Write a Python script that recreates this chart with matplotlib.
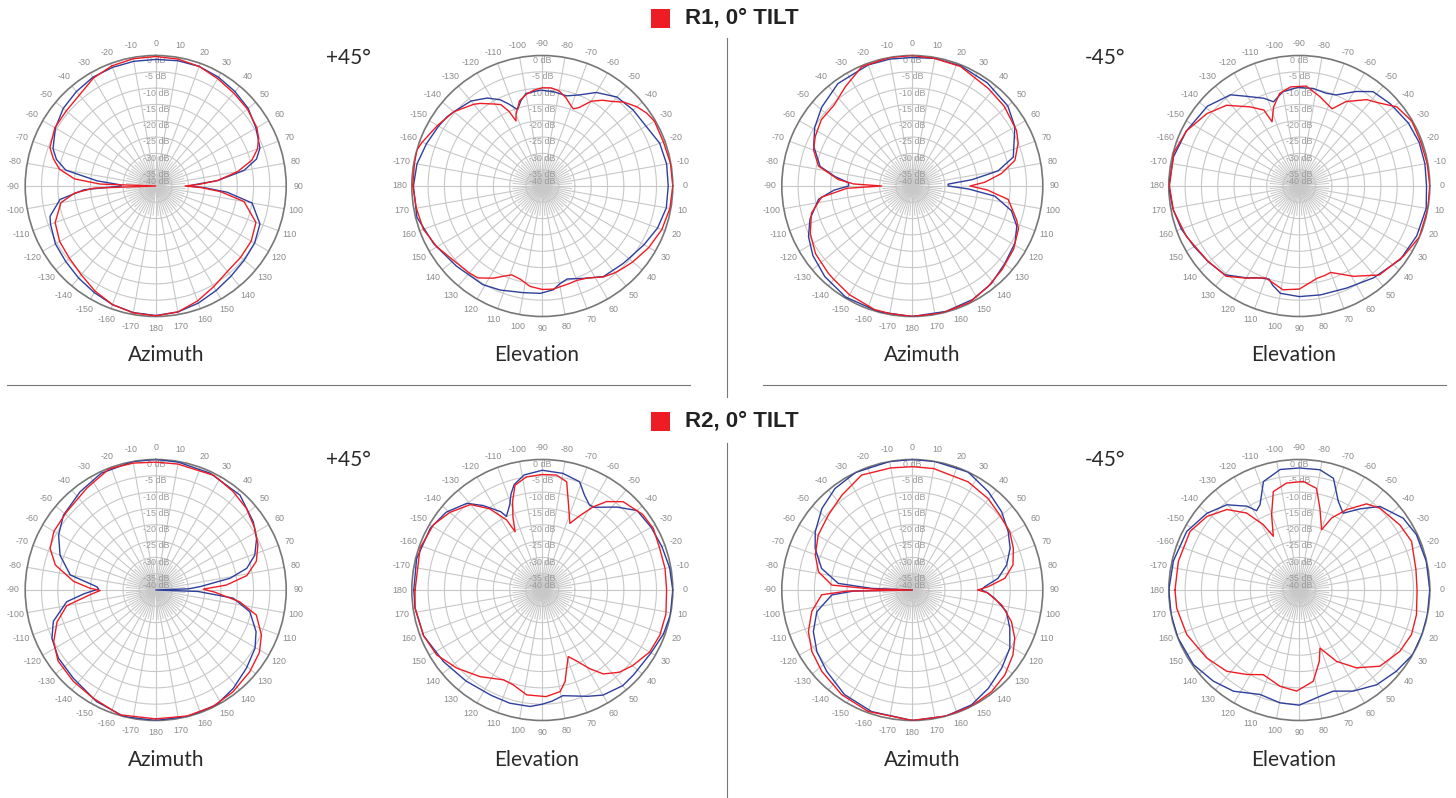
import numpy as np
import matplotlib
matplotlib.use("Agg")
import matplotlib.pyplot as plt
from matplotlib.lines import Line2D
from matplotlib.patches import Rectangle

W, H = 1456, 798
R = 130.5  # polar radius in pixels

RED = "#ee1c24"
BLUE = "#2e3f9c"
GRID = "#c8c8c8"
LABEL = "#8a8a8a"

# ---- pattern data, (angle in degrees, level in dB) ----
# R1, +45 azimuth
az1_red = [(-180,-0.2),(-170,-0.5),(-160,-1.3),(-150,-2.8),(-140,-4.5),(-130,-5.5),(-120,-6),(-110,-7.2),
           (-100,-10.5),(-95,-15),(-92,-21),(-90,-40),(-88,-23),(-85,-15),(-80,-10),(-75,-7.5),(-70,-5.5),
           (-60,-4.3),(-50,-4.2),(-40,-3.6),(-30,-1.8),(-20,-0.8),(-10,-0.4),(0,-0.3),(10,-0.5),(20,-1),
           (30,-2),(40,-2.8),(50,-3.3),(60,-4.2),(65,-5.2),(70,-6.8),(75,-9.5),(80,-14.5),(85,-21),(88,-27),
           (90,-31),(92,-26),(95,-20),(100,-12.5),(110,-7.3),(120,-6.2),(130,-6),(140,-5.8),(150,-4.4),
           (160,-2.5),(170,-0.8),(180,-0.2)]
az1_blue = [(-180,-0.3),(-170,-0.6),(-160,-1.3),(-150,-2.3),(-140,-3.2),(-130,-4),(-120,-4.5),(-110,-5.7),
            (-106,-6.3),(-98,-10.4),(-93,-18),(-90,-29.5),(-88,-29),(-85,-22),(-80,-12),(-75,-8.5),(-70,-6.5),
            (-60,-4.5),(-50,-3),(-40,-2.2),(-30,-1.5),(-20,-1.3),(-10,-1.2),(0,-1.2),(10,-1),(20,-1),(30,-1.5),
            (40,-2.2),(50,-3),(60,-4.5),(70,-6),(75,-8),(80,-12.5),(85,-21),(88,-28),(90,-30),(92,-25),
            (95,-18),(100,-10),(110,-6),(120,-5),(130,-4.6),(140,-4),(150,-3),(160,-1.8),(170,-0.8),(180,-0.3)]

# R1, +45 elevation
el1_red = [(-180,-0.3),(-170,-0.2),(-164,0),(-160,-0.8),(-150,-2.9),(-140,-4.6),(-130,-7.3),(-127,-8.3),
           (-120,-11),(-117,-12),(-114,-15),(-112,-18.5),(-110,-16.5),(-107,-14.6),(-105,-13),(-100,-11.5),
           (-95,-10.5),(-90,-9.9),(-85,-9.8),(-80,-10.4),(-75,-12),(-70,-14),(-68,-14.5),(-65,-13.5),(-60,-10),
           (-55,-7.9),(-50,-6.2),(-46,-4.2),(-40,-2.2),(-35,-1),(-30,-0.3),(-20,-0.5),(-10,-0.1),(0,0),
           (10,-0.3),(20,-1),(30,-2.3),(40,-3.8),(45,-4.6),(50,-5.3),(56,-6.4),(64,-8.6),(70,-9.2),(74,-9),
           (84,-8.2),(90,-8.3),(97,-9),(103,-10.6),(109,-11.2),(113,-10),(118,-8),(125,-5.6),(130,-5.2),
           (140,-4.5),(150,-2.7),(160,-1.2),(170,-0.8),(180,-0.3)]
el1_blue = [(-180,-0.5),(-170,-1),(-160,-2.2),(-150,-3.3),(-144,-3.9),(-140,-4.6),(-130,-6),(-122,-8.2),
            (-116,-10.6),(-112,-13),(-108,-15.4),(-104,-13),(-100,-11.2),(-91,-10.6),(-83,-10.9),(-75,-11.4),
            (-68,-9.9),(-60,-6.9),(-50,-4.4),(-40,-3.7),(-30,-3.3),(-20,-1.7),(-10,-1.3),(0,-1.4),(10,-1.4),
            (20,-2.4),(30,-4),(40,-5.4),(44,-5.7),(56,-6.5),(66,-9),(75,-10.5),(80,-9.5),(84,-8),(91,-7.1),
            (100,-6.8),(112,-5.6),(121,-4.7),(137,-4),(152,-2.3),(166,-0.4),(180,-0.5)]

# R1, -45 azimuth
az2_red = [(-180,0),(-170,-0.3),(-163,-0.4),(-150,-1.5),(-140,-2.6),(-136,-2.9),(-125,-3.8),(-115,-5.5),
           (-105,-8),(-97,-12),(-92,-20),(-90,-30.6),(-88,-22),(-85,-17.2),(-78,-10.6),(-70,-7.8),(-63,-6.6),
           (-54,-5.5),(-44,-5.5),(-34,-3.3),(-23,-0.3),(-10,0),(0,0),(10,-0.3),(22,-0.5),(38,-2.1),(49,-2.7),
           (62,-3.8),(68,-5),(76,-7.6),(82,-12.4),(87,-17.7),(90,-22.3),(93,-17),(98,-10.3),(108,-6.4),
           (112,-4.9),(122,-3.4),(133,-2.4),(143,-1.4),(154,-0.2),(167,0),(180,0)]
az2_blue = [(-180,0),(-165,-0.1),(-149,-0.3),(-136,-1.4),(-125,-2.8),(-116,-4.6),(-108,-7),(-98,-11),
            (-93,-16),(-90,-20.5),(-87,-20.4),(-83,-16.1),(-78,-11.1),(-68,-7.4),(-59,-5.1),(-49,-3.2),
            (-36,-1.2),(-20,-0.5),(-10,-0.5),(0,-0.6),(10,-0.3),(22,-0.3),(36,-0.9),(50,-1.8),(60,-3.7),
            (74,-7.8),(80,-13.3),(84,-21.7),(87,-29),(90,-29),(93,-22.8),(97,-14.5),(104,-8.7),(111,-5.7),
            (119,-4),(130,-3),(141,-1.5),(152,-0.6),(165,-0.2),(180,0)]

# R1, -45 elevation
el2_red = [(-180,-0.2),(-165,-0.2),(-154,-1.5),(-142,-4),(-132,-6.7),(-122,-11.4),(-115,-14.3),(-113,-18.6),
           (-108,-14.5),(-102,-11),(-95,-9.5),(-86,-9.3),(-77,-11.9),(-71,-13.5),(-67,-14.3),(-61,-10.4),
           (-52,-6.4),(-47,-5),(-39,-1.5),(-30,-0.2),(-20,-0.4),(-10,-0.2),(0,0),(10,0),(23,0),(34,-1.5),
           (48,-3.3),(59,-7.7),(70,-11.8),(74,-11.5),(79,-11.2),(90,-8.4),(99,-7.8),(105,-9.2),(110,-10),
           (120,-7.4),(129,-4.4),(141,-3.7),(156,-2.1),(169,-0.7),(180,-0.2)]
el2_blue = [(-180,0),(-167,-0.4),(-154,-1.5),(-139,-2.7),(-127,-5),(-120,-8.3),(-112,-11),(-107,-13),
            (-100,-10.7),(-91,-9.8),(-82,-9.8),(-74,-10.4),(-68,-9.9),(-59,-6.2),(-52,-3.3),(-42,-2.4),
            (-30,-1.4),(-20,-0.9),(-10,-0.9),(0,-1),(10,-0.5),(23,-0.9),(36,-1.7),(51,-3.8),(65,-5.5),
            (79,-6),(90,-6.1),(100,-6.6),(105,-8.5),(108,-10),(115,-9),(120,-7.5),(130,-4.5),(140,-3.7),
            (150,-2.8),(160,-1.5),(170,-0.6),(180,0)]

# R2, +45 azimuth
az3_red = [(-180,-0.5),(-164,-0.2),(-150,-1.7),(-138,-2.3),(-126,-3),(-117,-4.9),(-108,-8.2),(-100,-12.3),
           (-94,-19.9),(-90.5,-23),(-88.5,-19.9),(-84,-14.7),(-76,-8.3),(-68.5,-5.2),(-60,-4),(-49,-3.7),
           (-34,-2.3),(-21,-0.2),(-10,-0.5),(0,-0.8),(10,-0.8),(27,-0.6),(38,-1.6),(48,-2.6),(58,-4.2),
           (66,-5.7),(74,-7.9),(81,-11.7),(86,-18.3),(89,-25.4),(92,-22),(98,-14),(104,-8.2),(113,-4.8),
           (121,-2.9),(131,-1.8),(143,-0.8),(154,-0.2),(166,-0.2),(180,-0.5)]
az3_blue = [(-180,0),(-166,0),(-152,-1.3),(-137,-3),(-125,-3.6),(-115,-4.9),(-107,-7.2),(-97.5,-12.5),
            (-93,-18),(-89,-22.5),(-86.8,-21.9),(-80,-13.4),(-70,-8.8),(-60.5,-5.8),(-51,-3.6),(-37.6,-2),
            (-25,-0.5),(-10,0),(0,0),(10,-0.2),(25,-0.5),(41.6,-1.1),(55,-3.5),(63,-5.3),(70.6,-7.8),
            (76.6,-11.3),(81,-16.9),(85.7,-26.4),(88,-30),(90,-40),(92,-27),(96,-16.1),(103,-10.4),
            (112.5,-6.7),(120.4,-4.7),(130.7,-3.3),(141.7,-1.6),(152,-0.2),(165,0),(180,0)]

# R2, +45 elevation
el3_red = [(-180,-1),(-161,-0.4),(-149,-1.1),(-140,-3),(-130,-5.8),(-123,-10.3),(-117,-15.9),(-115,-20.3),
           (-112,-16),(-108.6,-11.4),(-104.6,-6.8),(-98,-5),(-90,-4.6),(-83,-4.5),(-77.3,-6),(-73.6,-11.8),
           (-67.5,-17.9),(-63,-14.3),(-58.5,-10.1),(-54,-6.5),(-47.5,-3.3),(-37,-1.5),(-29,-1.1),(-20,-1.8),
           (-10,-1.8),(0,-1.9),(11,-1.4),(21,-1.4),(30,-2),(40,-3.9),(47,-5.5),(54,-8.2),(59,-11.9),
           (64,-15.7),(68.7,-18.1),(72.7,-14.9),(76,-11.1),(80,-8.4),(88,-7.3),(98.5,-7.5),(107,-9.6),
           (113.4,-10),(125.7,-7.3),(137.6,-4.5),(148.4,-2),(159,-1),(172,-0.6),(180,-1)]
el3_blue = [(-180,-0.6),(-166,-0.3),(-151,-0.8),(-141,-2.1),(-131,-4.8),(-125,-8.4),(-118,-12.8),
            (-116,-14.9),(-111,-12.1),(-108,-9),(-105,-6.6),(-99,-4.3),(-90,-3.3),(-80,-3.7),(-71,-4.9),
            (-66,-8.2),(-61,-10.2),(-58,-10.1),(-48,-5.8),(-40,-2.1),(-30,-1.5),(-20,-1),(-10,-0.4),(0,0),
            (11,0),(20,-0.5),(30,-1.5),(43,-1.8),(50,-1.7),(60,-2.8),(67,-4.6),(79,-7),(85,-5.8),(90,-5),
            (96,-4.1),(106,-3.9),(116,-4.1),(130,-3.6),(144,-2.6),(159,-1),(172,-0.6),(180,-0.6)]

# R2, -45 azimuth
az4_red = [(-180,0),(-160,-0.4),(-146,-1.3),(-132,-2.7),(-121.5,-3.9),(-111.8,-5.7),(-102,-8.5),(-93,-12.2),
           (-91,-20),(-90,-40),(-88.6,-27.5),(-86.5,-15.3),(-79,-10.7),(-70.2,-8.4),(-59.7,-6.6),(-48.2,-5.5),
           (-36.6,-3.8),(-23.8,-1.5),(-10,-2),(0,-2.2),(10,-2.2),(27.3,-2.7),(39.7,-3.6),(49.5,-4.7),
           (59.2,-5.2),(67.6,-6.5),(76,-8.2),(82.8,-11.4),(87.5,-16.7),(90,-20),(92,-17),(99.5,-12.2),
           (107.7,-8.1),(115.2,-5.3),(122.8,-3.3),(132.5,-1.5),(142,-0.5),(153.4,0),(165,0),(180,0)]
az4_blue = [(-180,0),(-161.5,-0.7),(-147,-1.8),(-133.6,-3.8),(-122.8,-5.2),(-112.8,-7.1),(-102.8,-10),
            (-93.5,-15.3),(-91,-22),(-90,-40),(-87.7,-27.5),(-84.9,-17.2),(-76.6,-11.4),(-66.8,-7.6),
            (-59,-5.3),(-48,-2.7),(-37.3,-0.9),(-25.8,0),(-10,0),(0,0),(10,0),(25.3,0),(37.7,-1.9),
            (48.8,-3.6),(58.7,-5.6),(66.9,-7.4),(75.2,-10.1),(82.3,-13.5),(87.4,-17.8),(90,-18.8),(92,-17),
            (95.8,-14.6),(102.9,-10.4),(111.4,-7.9),(120.8,-5.2),(131.2,-3.6),(142.3,-1.9),(152.7,-0.4),
            (165,0),(180,0)]

# R2, -45 elevation
el4_red = [(-180,-1.9),(-166.7,-1.9),(-151.8,-2),(-141.5,-3.8),(-132,-6.8),(-124.4,-11.4),(-118.9,-17.1),
           (-115.8,-21.7),(-110.2,-15.4),(-104.8,-8.8),(-96.8,-7),(-87.9,-6.7),(-80.4,-8.4),(-75.9,-14.1),
           (-69.7,-20.3),(-65.8,-15.8),(-59.5,-11.4),(-52,-6.5),(-45.5,-4.8),(-33,-3.3),(-23.4,-2.5),
           (-10,-3.7),(0,-3.9),(11.9,-3.3),(21.7,-3),(31.4,-3.9),(43.4,-6),(53.7,-10.4),(62.4,-15.3),
           (70.4,-21.1),(74.3,-17.3),(81.3,-11.7),(91.5,-9),(101.3,-9.9),(113,-11.8),(121.9,-9.5),
           (131.8,-6.6),(143.7,-4.8),(158.4,-2.9),(171.6,-2),(180,-1.9)]
el4_blue = [(-180,0),(-167,-0.4),(-152.5,-1.1),(-140.3,-3.2),(-130.4,-5.7),(-122,-9.7),(-118.3,-12.4),
            (-114.7,-11.2),(-108.3,-5),(-99,-2.6),(-90,-2.6),(-80.3,-2.6),(-73,-4.2),(-66.3,-10.3),
            (-60.3,-12.9),(-53.3,-9),(-46,-4.4),(-34.7,-1.3),(-25.3,-0.3),(-12.7,-0.1),(0,0),(10.8,0),
            (19.8,0),(29.6,0),(39.9,-1.2),(50.8,-2.5),(62,-4.9),(71.5,-7.3),(79,-6.8),(90,-4.7),(99.7,-4.9),
            (110.6,-5.8),(123,-3),(133.3,-1.6),(144.8,-0.3),(158.6,0),(169,0),(180,0)]

angle_labels = list(range(-170, 190, 10))
db_levels = [0, -5, -10, -15, -20, -25, -30, -35, -40]

fig = plt.figure(figsize=(W / 100, H / 100), dpi=100)
fig.patch.set_facecolor("white")

SMALL = ["Liberation Sans Narrow", "Liberation Sans"]


def fx(x):
    return x / W


def fy(y):
    return 1 - y / H


def polar_panel(cx, cy, kind, red, blue):
    ax = fig.add_axes([fx(cx - R), fy(cy + R), 2 * R / W, 2 * R / H], projection="polar")
    ax.set_theta_zero_location("N" if kind == "az" else "E")
    ax.set_theta_direction(-1)
    ax.set_ylim(-40, 0)
    ax.set_xticks([])
    ax.set_yticks([])
    ax.grid(False)
    ax.spines["polar"].set_color("#777777")
    ax.spines["polar"].set_linewidth(1.2)

    t = np.linspace(0, 2 * np.pi, 361)
    for db in range(-35, 0, 5):
        ax.plot(t, np.full_like(t, db), color=GRID, lw=0.8, zorder=1)
    for a in range(0, 360, 10):
        ax.plot([np.deg2rad(a)] * 2, [-40, 0], color=GRID, lw=0.8, zorder=1)
    for a in range(5, 360, 10):
        ax.plot([np.deg2rad(a)] * 2, [-40, -31], color=GRID, lw=0.7, zorder=1)

    for a in angle_labels:
        ax.text(np.deg2rad(a), 3.7, str(a), ha="center", va="center", fontsize=6.4,
                color=LABEL, family=SMALL, clip_on=False)

    top = 0 if kind == "az" else -90
    for db in db_levels:
        ax.text(np.deg2rad(top), db - 1.5 if db > -40 else -38.5, f"{db} dB", ha="center",
                va="center", fontsize=6.4, color="#999999", family=SMALL, zorder=2)

    ba, bv = zip(*blue)
    ra, rv = zip(*red)
    ax.plot(np.deg2rad(ba), bv, color=BLUE, lw=1.0, zorder=3)
    ax.plot(np.deg2rad(ra), rv, color=RED, lw=1.0, zorder=4)
    return ax


xs = [155.7, 542.3, 912.3, 1299.3]
polar_panel(xs[0], 186, "az", az1_red, az1_blue)
polar_panel(xs[1], 186, "el", el1_red, el1_blue)
polar_panel(xs[2], 186, "az", az2_red, az2_blue)
polar_panel(xs[3], 186, "el", el2_red, el2_blue)
polar_panel(xs[0], 590, "az", az3_red, az3_blue)
polar_panel(xs[1], 590, "el", el3_red, el3_blue)
polar_panel(xs[2], 590, "az", az4_red, az4_blue)
polar_panel(xs[3], 590, "el", el4_red, el4_blue)

# captions
cap_x = [166, 537, 922, 1294]
for row_y in (355, 760):
    for i, name in enumerate(["Azimuth", "Elevation", "Azimuth", "Elevation"]):
        fig.text(fx(cap_x[i]), fy(row_y), name, ha="center", va="center", fontsize=15,
                 family="Lato", color="#2a2a2a")
for row_y in (58, 460):
    fig.text(fx(348), fy(row_y), "+45°", ha="center", va="center", fontsize=15,
             family="Lato", color="#2a2a2a")
    fig.text(fx(1105), fy(row_y), "-45°", ha="center", va="center", fontsize=15,
             family="Lato", color="#2a2a2a")

# section titles
for title, ty in (("R1, 0° TILT", 18), ("R2, 0° TILT", 421)):
    fig.add_artist(Rectangle((fx(651), fy(ty + 10)), 19 / W, 19 / H, transform=fig.transFigure,
                             color=RED, lw=0))
    fig.text(fx(685), fy(ty), title, ha="left", va="center", fontsize=16, fontweight="bold",
             family="Liberation Sans", color="#222222")

# separators
sep = "#777777"
fig.add_artist(Line2D([fx(7), fx(690)], [fy(385.5), fy(385.5)], color=sep, lw=0.8))
fig.add_artist(Line2D([fx(763), fx(1446)], [fy(385.5), fy(385.5)], color=sep, lw=0.8))
fig.add_artist(Line2D([fx(727), fx(727)], [fy(38), fy(397)], color=sep, lw=0.8))
fig.add_artist(Line2D([fx(727), fx(727)], [fy(443), fy(798)], color=sep, lw=0.8))

fig.savefig("out.png", dpi=100, facecolor="white")
